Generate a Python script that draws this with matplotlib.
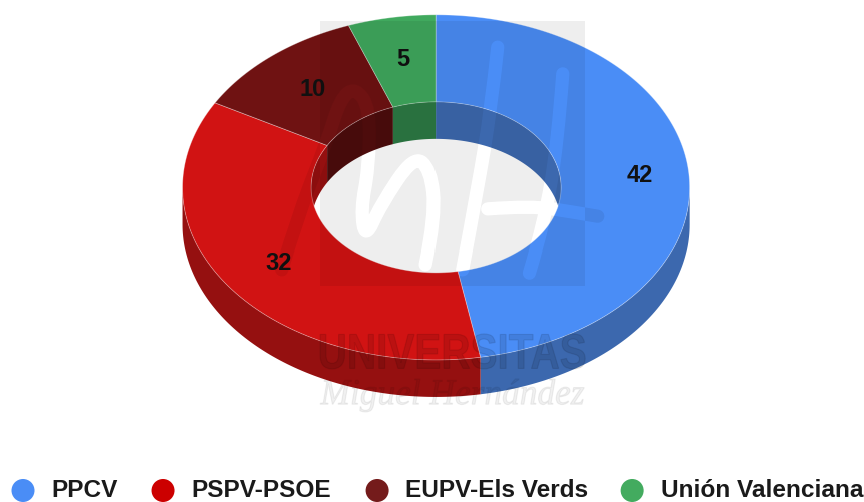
import numpy as np
import matplotlib
matplotlib.use("Agg")
import matplotlib.pyplot as plt
from matplotlib.backends.backend_agg import FigureCanvasAgg
from matplotlib.figure import Figure
from matplotlib.font_manager import FontProperties
from matplotlib.patches import Circle, PathPatch, Polygon, Rectangle
from matplotlib.path import Path
from matplotlib.textpath import TextPath
from matplotlib.transforms import Affine2D

# data
partidos = ["PPCV", "PSPV-PSOE", "EUPV-Els Verds", "Unión Valenciana"]
escanos = [42, 32, 10, 5]
colores = ["#4a8df6", "#d11313", "#6f1212", "#40a95e"]
colores_legend = ["#4a8df6", "#cc0000", "#741b1b", "#43ab5f"]
paredes = ["#3c68ae", "#951010", "#4d0c0c", "#2c7a44"]

W, H = 864, 502
TAM = ((W + 0.2) / 100, (H + 0.2) / 100)
cx, cy = 436, 187.5
rx, ry = 253.5, 172.5
rx_in, ry_in = 125, 85.5
prof = 37
label_r = [0.805, 0.76, 0.75, 0.755]
legend_x = [23, 163, 377, 632]
legend_txt = [51, 191, 405, 661]


def elipse(a, b, t):
    # t en grados, 0 arriba y sentido horario
    r = np.radians(t)
    return cx + a * np.sin(r), cy - b * np.cos(r)


def arco(a, b, t0, t1, dy=0):
    t = np.linspace(t0, t1, max(int(abs(t1 - t0)), 2) + 1)
    x, y = elipse(a, b, t)
    return np.column_stack([x, y + dy])


fig = plt.figure(figsize=TAM, dpi=100)
ax = fig.add_axes([0, 0, 1, 1])
ax.set_xlim(0, W)
ax.set_ylim(H, 0)
ax.axis("off")

angulos = np.concatenate([[0], np.cumsum(escanos)]) / sum(escanos) * 360
borde = (1, 1, 1, 0.35)

# paredes (exterior abajo, interior arriba)
for i in range(len(escanos)):
    t0, t1 = angulos[i], angulos[i + 1]
    a, b = max(t0, 90), min(t1, 270)
    if a < b:
        pts = np.vstack([arco(rx, ry, a, b), arco(rx, ry, b, a, prof)])
        ax.add_patch(Polygon(pts, fc=paredes[i], ec="none", zorder=1))
    for a, b in [(t0, min(t1, 90)), (max(t0, 270), t1)]:
        if a < b:
            pts = np.vstack([arco(rx_in, ry_in, a, b), arco(rx_in, ry_in, b, a, prof)])
            ax.add_patch(Polygon(pts, fc=paredes[i], ec="none", zorder=1))

# cara superior
for i in range(len(escanos)):
    t0, t1 = angulos[i], angulos[i + 1]
    pts = np.vstack([arco(rx, ry, t0, t1), arco(rx_in, ry_in, t1, t0)])
    ax.add_patch(Polygon(pts, fc=colores[i], ec=borde, lw=0.6, zorder=2))

# etiquetas
for i, v in enumerate(escanos):
    t = (angulos[i] + angulos[i + 1]) / 2
    x, y = elipse(rx * label_r[i], ry * label_r[i], t)
    ax.text(x, y, str(v), ha="center", va="center", fontsize=17, fontweight="bold",
            family="Liberation Sans", color="#111111", zorder=3)

# leyenda
for i, nombre in enumerate(partidos):
    ax.add_patch(Circle((legend_x[i], 490.5), 11.5, fc=colores_legend[i], ec="none"))
    ax.text(legend_txt[i], 490.5, nombre, ha="left", va="center", fontsize=17.6,
            fontweight="bold", family="Liberation Sans", color="#1a1a1a")


# marca de agua: logo en negativo sobre el cuadro gris
def trazo(puntos):
    p = np.array(puntos, dtype=float) / 3 + [290, 10]
    verts, codes = [p[0]], [Path.MOVETO]
    for k in range(1, len(p) - 1):
        fin = p[k + 1] if k == len(p) - 2 else (p[k] + p[k + 1]) / 2
        verts += [p[k], fin]
        codes += [Path.CURVE3, Path.CURVE3]
    return Path(verts, codes)


def mascara(dibuja):
    f = Figure(figsize=TAM, dpi=100, facecolor="black")
    c = FigureCanvasAgg(f)
    a = f.add_axes([0, 0, 1, 1])
    a.set_xlim(0, W)
    a.set_ylim(H, 0)
    a.axis("off")
    dibuja(a)
    c.draw()
    return np.asarray(c.buffer_rgba())[:, :, 0] / 255.0


trazos = [
    [(-25, 780), (30, 600), (110, 400), (150, 270), (195, 235), (240, 300), (235, 480), (212, 600), (225, 690),
     (270, 590), (370, 440), (420, 480), (435, 620), (405, 765)],
    [(620, 115), (600, 300), (560, 540), (515, 780)],
    [(815, 195), (800, 400), (760, 640), (715, 790)],
    [(590, 600), (720, 590), (850, 610), (920, 622)],
]


def dibuja_rect(a):
    a.add_patch(Rectangle((320, 22), 264, 264, fc="white", ec="none"))


def dibuja_trazos(a):
    for t in trazos:
        a.add_patch(PathPatch(trazo(t), fc="none", ec="white", lw=9.5, capstyle="round", joinstyle="round"))


alfa = np.abs(mascara(dibuja_rect) - mascara(dibuja_trazos)) * 0.07
capa = np.zeros((alfa.shape[0], alfa.shape[1], 4))
capa[:, :, 3] = alfa
ax.imshow(capa, extent=(0, W, H, 0), interpolation="nearest", aspect="auto", zorder=5)
ax.set_xlim(0, W)
ax.set_ylim(H, 0)


def texto_ajustado(s, fuente, x0, y0, x1, y1, color, alpha):
    tp = TextPath((0, 0), s, size=40, prop=fuente)
    e = tp.get_extents()
    sx = (x1 - x0) / e.width
    sy = (y1 - y0) / e.height
    tr = Affine2D().translate(-e.x0, -e.y0).scale(sx, -sy).translate(x0, y1)
    ax.add_patch(PathPatch(tr.transform_path(tp), fc=color, ec=color, lw=0.8, alpha=alpha, zorder=6))


texto_ajustado("UNIVERSITAS", FontProperties(family="Liberation Sans", weight="bold"),
               320, 334, 585, 369, "black", 0.10)
texto_ajustado("Miguel Hernández", FontProperties(family="Liberation Serif", style="italic"),
               320, 379, 584, 412, "black", 0.06)

fig.savefig("out.png", dpi=100)
